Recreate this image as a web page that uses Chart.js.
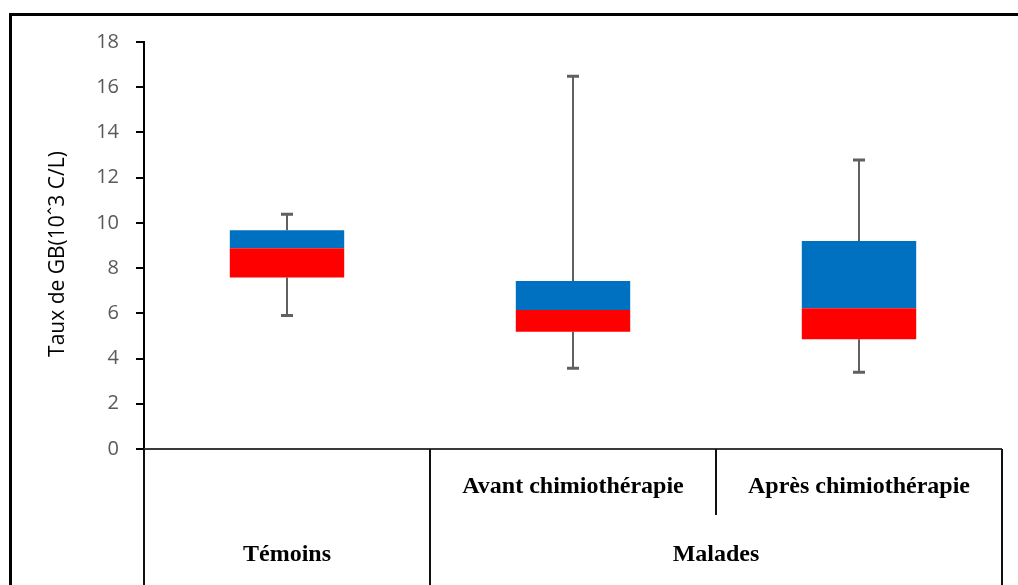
<!DOCTYPE html>
<html>
<head>
<meta charset="utf-8">
<script src="https://cdn.jsdelivr.net/npm/chart.js@4.4.1/dist/chart.umd.min.js"></script>
<style>
  html, body { margin: 0; padding: 0; background: #ffffff; }
  #wrap { width: 1018px; height: 585px; position: relative; }
  canvas { display: block; }
</style>
</head>
<body>
<div id="wrap"><canvas id="c" width="1018" height="585"></canvas></div>
<script>
// ---- Data ----
const categories = ["Témoins", "Avant chimiothérapie", "Après chimiothérapie"];
const subLabels = ["", "Avant chimiothérapie", "Après chimiothérapie"];
const groupLabels = ["Témoins", "Malades"];
const groupFirst = [0, 1];
const groupLast = [0, 2];
const whiskerMin = [5.9, 3.57, 3.39];
const q1 = [7.58, 5.19, 4.85];
const median = [8.88, 6.15, 6.22];
const q3 = [9.67, 7.43, 9.2];
const whiskerMax = [10.38, 16.48, 12.78];
const yTicks = [0, 2, 4, 6, 8, 10, 12, 14, 16, 18];
const yTitle = "Taux de GB(10ˆ3 C/L)";

const whiskerPlugin = {
  id: 'whiskers',
  beforeDatasetsDraw(chart) {
    const ctx = chart.ctx;
    const xs = chart.scales.x, ys = chart.scales.y;
    ctx.save();
    ctx.strokeStyle = '#606060';
    for (let i = 0; i < categories.length; i++) {
      const x = Math.round(xs.getPixelForValue(i)) ;
      const yMax = ys.getPixelForValue(whiskerMax[i]);
      const yQ3 = ys.getPixelForValue(q3[i]);
      const yQ1 = ys.getPixelForValue(q1[i]);
      const yMin = ys.getPixelForValue(whiskerMin[i]);
      ctx.lineWidth = 2;
      ctx.beginPath();
      ctx.moveTo(x, yQ3); ctx.lineTo(x, yMax);
      ctx.moveTo(x, yQ1); ctx.lineTo(x, yMin);
      ctx.stroke();
      ctx.lineWidth = 3;
      ctx.beginPath();
      ctx.moveTo(x - 6, yMax); ctx.lineTo(x + 6, yMax);
      ctx.moveTo(x - 6, yMin); ctx.lineTo(x + 6, yMin);
      ctx.stroke();
    }
    ctx.restore();
  }
};

const framePlugin = {
  id: 'frame',
  afterDraw(chart) {
    const ctx = chart.ctx;
    const xs = chart.scales.x;
    const a = chart.chartArea;
    const W = chart.width, H = chart.height;
    ctx.save();
    // outer frame (top + left)
    ctx.strokeStyle = '#000';
    ctx.lineWidth = 3;
    ctx.beginPath();
    ctx.moveTo(10.5, H); ctx.lineTo(10.5, 14.5); ctx.lineTo(W, 14.5);
    ctx.stroke();

    // zero line
    ctx.lineWidth = 2;
    ctx.strokeStyle = '#3a3a3a';
    ctx.beginPath();
    ctx.moveTo(a.left, a.bottom); ctx.lineTo(a.right, a.bottom);
    ctx.stroke();

    // table lines below axis
    ctx.strokeStyle = '#111';
    ctx.lineWidth = 2;
    const n = categories.length;
    const step = (a.right - a.left) / n;
    ctx.beginPath();
    ctx.moveTo(a.left, a.bottom); ctx.lineTo(a.left, H);
    ctx.moveTo(a.right, a.bottom); ctx.lineTo(a.right, H);
    for (let g = 0; g < groupLabels.length - 1; g++) {
      const xb = xs.getPixelForValue(groupLast[g]) + step / 2;
      ctx.moveTo(xb, a.bottom); ctx.lineTo(xb, H);
    }
    for (let g = 0; g < groupLabels.length; g++) {
      for (let i = groupFirst[g]; i < groupLast[g]; i++) {
        const xb = xs.getPixelForValue(i) + step / 2;
        ctx.moveTo(xb, a.bottom); ctx.lineTo(xb, a.bottom + 66);
      }
    }
    ctx.stroke();

    // labels
    ctx.fillStyle = '#000';
    ctx.font = 'bold 24px "Liberation Serif", "Times New Roman", serif';
    ctx.textAlign = 'center';
    ctx.textBaseline = 'alphabetic';
    for (let i = 0; i < n; i++) {
      if (subLabels[i]) ctx.fillText(subLabels[i], xs.getPixelForValue(i), a.bottom + 44);
    }
    for (let g = 0; g < groupLabels.length; g++) {
      const xc = (xs.getPixelForValue(groupFirst[g]) + xs.getPixelForValue(groupLast[g])) / 2;
      ctx.fillText(groupLabels[g], xc, a.bottom + 112);
    }

    // y title
    ctx.font = '21px "Open Sans", sans-serif';
    ctx.textBaseline = 'middle';
    ctx.translate(58, 254);
    ctx.rotate(-Math.PI / 2);
    ctx.fillText(yTitle, 0, 0);
    ctx.restore();
  }
};

const bgPlugin = {
  id: 'bg',
  beforeDraw(chart) {
    const ctx = chart.ctx;
    ctx.save();
    ctx.fillStyle = '#fff';
    ctx.fillRect(0, 0, chart.width, chart.height);
    ctx.restore();
  }
};

new Chart(document.getElementById('c'), {
  type: 'bar',
  data: {
    labels: categories,
    datasets: [
      {
        label: 'Q1 - Médiane',
        data: q1.map((v, i) => [v, median[i]]),
        backgroundColor: '#FF0000',
        borderWidth: 0,
        grouped: false,
        barPercentage: 1,
        categoryPercentage: 0.4
      },
      {
        label: 'Médiane - Q3',
        data: median.map((v, i) => [v, q3[i]]),
        backgroundColor: '#0070C0',
        borderWidth: 0,
        grouped: false,
        barPercentage: 1,
        categoryPercentage: 0.4
      }
    ]
  },
  options: {
    responsive: false,
    animation: false,
    devicePixelRatio: 1,
    layout: { padding: { top: 42, right: 16, bottom: 136, left: 0 } },
    plugins: {
      legend: { display: false },
      tooltip: { enabled: false },
      title: { display: false }
    },
    scales: {
      x: {
        type: 'category',
        display: false,
        offset: true
      },
      y: {
        min: 0,
        max: 18,
        afterFit(scale) { scale.width = 144; },
        afterBuildTicks(scale) { scale.ticks = yTicks.map(v => ({ value: v })); },
        ticks: {
          color: '#595959',
          font: { family: '"Open Sans", sans-serif', size: 20 },
          padding: 17
        },
        grid: {
          drawOnChartArea: false,
          drawTicks: true,
          tickLength: 8,
          color: '#000',
          lineWidth: 2
        },
        border: { display: true, color: '#000', width: 2 }
      }
    }
  },
  plugins: [bgPlugin, whiskerPlugin, framePlugin]
});
</script>
</body>
</html>
